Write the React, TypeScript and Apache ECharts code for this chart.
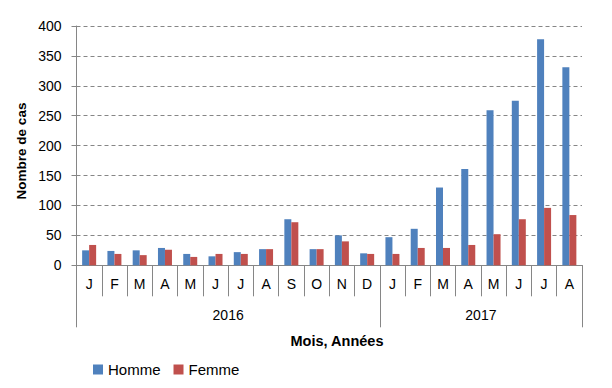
import React, { useEffect, useRef } from "react";
import * as echarts from "echarts";

const months = ["J", "F", "M", "A", "M", "J", "J", "A", "S", "O", "N", "D", "J", "F", "M", "A", "M", "J", "J", "A"];
const homme = [25, 24, 25, 29, 19, 15, 22, 27, 77, 27, 50, 20, 47, 61, 130, 161, 259, 275, 378, 331];
const femme = [34, 19, 17, 26, 14, 19, 19, 27, 72, 27, 40, 19, 19, 29, 29, 34, 52, 77, 96, 84];
const years = ["2016", "2017"];
const yearBounds = [0, 12, 20];
const yearCenters = [6, 16];

const FONT = "'Liberation Sans', Arial, sans-serif";
const GRAY = "#868686";

export default function App() {
  const ref = useRef<HTMLDivElement>(null);
  useEffect(() => {
    if (!ref.current) return;
    const chart = echarts.init(ref.current, null, { renderer: "svg" });
    chart.setOption({
      animation: false,
      textStyle: { fontFamily: FONT },
      grid: { left: 76.5, right: 30, top: 26, bottom: 122.7, containLabel: false },
      legend: {
        left: 93,
        top: 362,
        padding: 0,
        itemWidth: 10,
        itemHeight: 10,
        itemGap: 13,
        icon: "rect",
        textStyle: { fontSize: 15, color: "#000", fontFamily: FONT },
        data: ["Homme", "Femme"],
      },
      xAxis: [
        {
          type: "category",
          data: months,
          axisLine: { show: true, lineStyle: { color: GRAY, width: 1 } },
          axisTick: { show: true, length: 31, interval: 0, lineStyle: { color: GRAY } },
          axisLabel: { interval: 0, margin: 11.5, fontSize: 14, color: "#000", fontFamily: FONT },
          splitLine: { show: false },
        },
        {
          type: "value",
          position: "bottom",
          min: 0,
          max: 20,
          axisLine: { show: false },
          splitLine: { show: false },
          axisTick: { show: true, length: 62, customValues: yearBounds, lineStyle: { color: GRAY } },
          axisLabel: {
            customValues: yearCenters,
            margin: 43,
            fontSize: 14,
            color: "#000",
            fontFamily: FONT,
            formatter: (v: number) => years[yearCenters.indexOf(v)] ?? "",
          },
        },
      ],
      yAxis: {
        type: "value",
        min: 0,
        max: 400,
        interval: 50,
        axisLine: { show: true, lineStyle: { color: GRAY } },
        axisTick: { show: true, length: 5, lineStyle: { color: GRAY } },
        axisLabel: { fontSize: 14, color: "#000", margin: 15, fontFamily: FONT },
        splitLine: { show: true, lineStyle: { color: GRAY, type: [4, 3], width: 1 } },
      },
      graphic: [
        {
          type: "text",
          x: 21,
          y: 151,
          rotation: Math.PI / 2,
          style: {
            text: "Nombre de cas",
            fontSize: 13.5,
            fontWeight: "bold",
            fontFamily: FONT,
            fill: "#000",
            align: "center",
            verticalAlign: "middle",
          },
        },
        {
          type: "text",
          x: 337,
          y: 341,
          style: {
            text: "Mois, Années",
            fontSize: 14.5,
            fontWeight: "bold",
            fontFamily: FONT,
            fill: "#000",
            align: "center",
            verticalAlign: "middle",
          },
        },
      ],
      series: [
        {
          name: "Homme",
          type: "bar",
          data: homme,
          barWidth: 7,
          barGap: "0%",
          itemStyle: { color: "#4F81BD" },
        },
        {
          name: "Femme",
          type: "bar",
          data: femme,
          barWidth: 7,
          barGap: "0%",
          itemStyle: { color: "#C0504D" },
        },
      ],
    });
    return () => chart.dispose();
  }, []);
  return (
    <div
      ref={ref}
      style={{ position: "fixed", left: 0, top: 0, width: 612, height: 388, background: "#fff" }}
    />
  );
}
